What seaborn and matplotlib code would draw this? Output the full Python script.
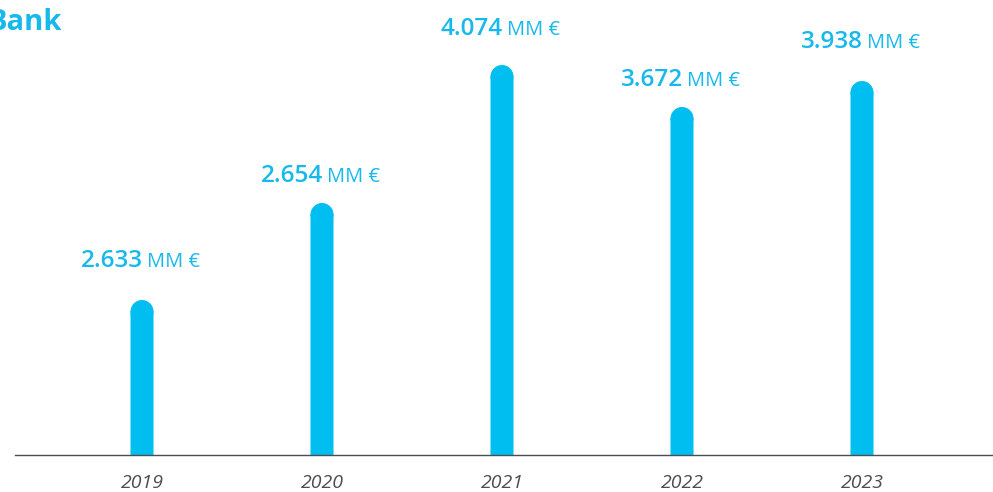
import matplotlib
matplotlib.use("Agg")
import matplotlib.pyplot as plt
import seaborn as sns
import pandas as pd
from matplotlib.patches import Ellipse

# ---- data ----
years = ["2019", "2020", "2021", "2022", "2023"]
value_labels = ["2.633", "2.654", "4.074", "3.672", "3.938"]
unit = "MM €"
# displayed bar heights (the chart is not drawn to scale)
bar_heights = [155, 252, 390, 348, 374]
title = "Bank"

# ---- style ----
CYAN = "#00BFF0"
TEXT_CYAN = "#17B9EC"
GREY = "#4d4d4d"

sns.set_theme(style="white")
plt.rcParams["font.family"] = ["Open Sans", "DejaVu Sans"]

W, H = 993, 492
fig = plt.figure(figsize=(W / 100, H / 100), dpi=100)
left_px, base_px, step_px, first_px = 15, 455, 180, 142
ax = fig.add_axes([left_px / W, (H - base_px) / H, (W - left_px) / W, base_px / H])

df = pd.DataFrame({"year": years, "height": bar_heights})
bar_w = 23 / step_px
sns.barplot(data=df, x="year", y="height", color=CYAN, saturation=1,
            width=bar_w, linewidth=0, ax=ax)

ax.set_xlim((left_px - first_px) / step_px, (W - first_px) / step_px)
ax.set_ylim(0, base_px)

# rounded tops
fig.canvas.draw()
for p in list(ax.patches):
    p.set_linewidth(0)
    p.set_edgecolor("none")
    p.set_snap(False)
    x, w, h = p.get_x(), p.get_width(), p.get_height()
    px_w = ax.transData.transform((x + w, 0))[0] - ax.transData.transform((x, 0))[0]
    px_per_y = ax.transData.transform((0, 1))[1] - ax.transData.transform((0, 0))[1]
    r_y = (px_w / 2) / px_per_y
    p.set_height(h - r_y + 0.5)
    ax.add_patch(Ellipse((x + w / 2, h - r_y), w, 2 * r_y, facecolor=CYAN,
                         edgecolor="none", lw=0, snap=False))

# value labels
gaps = [33, 21, 30, 21, 33]
for i, (lab, h, g) in enumerate(zip(value_labels, bar_heights, gaps)):
    ax.annotate(lab, xy=(i, h), xytext=(1, g), textcoords="offset pixels",
                ha="right", va="baseline", fontsize=17.5, fontweight="semibold",
                color=TEXT_CYAN)
    ax.annotate(unit, xy=(i, h), xytext=(5, g), textcoords="offset pixels",
                ha="left", va="baseline", fontsize=14.5, fontweight="normal",
                color=TEXT_CYAN)

# axes styling
for s in ["left", "top", "right"]:
    ax.spines[s].set_visible(False)
ax.spines["bottom"].set_color(GREY)
ax.spines["bottom"].set_linewidth(1.0)
ax.set_yticks([])
ax.set_xlabel("")
ax.set_ylabel("")
ax.tick_params(axis="x", length=0, pad=14, labelsize=14, labelcolor=GREY)
for t in ax.get_xticklabels():
    t.set_fontstyle("italic")
    t.set_fontweight("normal")

fig.text(62 / W, 1 - 30 / H, title, ha="right", va="baseline", fontsize=21,
         fontweight="bold", color=TEXT_CYAN)

fig.savefig("out.png", dpi=100)
